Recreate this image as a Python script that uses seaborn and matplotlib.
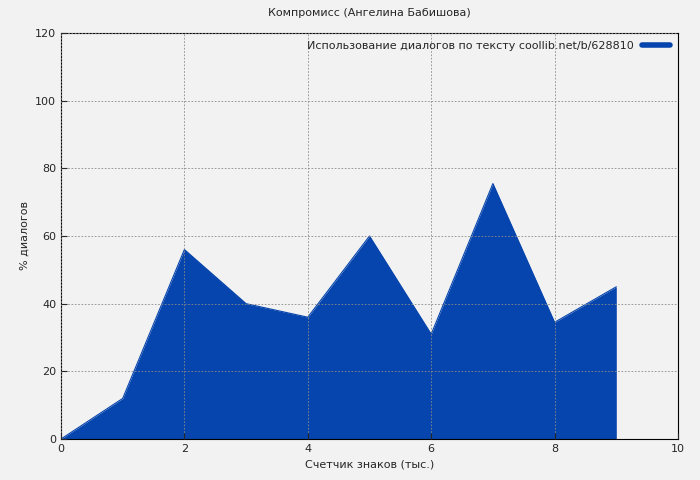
import matplotlib
matplotlib.use("Agg")
import matplotlib.pyplot as plt
import seaborn as sns
from matplotlib.lines import Line2D

sns.set_style("ticks")
plt.rcParams["font.family"] = ["DejaVu Sans"]

chars_k = [0, 1, 2, 3, 4, 5, 6, 7, 8, 9]
dialog_pct = [0, 12, 56, 40, 36, 60, 31, 75.5, 34.5, 45]

BG = "#f2f2f2"
BLUE = "#0645ad"

fig = plt.figure(figsize=(7, 4.8), dpi=100, facecolor=BG)
ax = fig.add_axes([61 / 700, 41 / 480, 617 / 700, 406 / 480])
ax.set_facecolor(BG)

sns.lineplot(x=chars_k, y=dialog_pct, ax=ax, color=BLUE, linewidth=0.8)
ax.fill_between(chars_k, dialog_pct, 0, color=BLUE, linewidth=0)

ax.set_xlim(0, 10)
ax.set_ylim(0, 120)
ax.set_xticks(range(0, 11, 2))
ax.set_yticks(range(0, 121, 20))
ax.grid(True, color="#888888", linestyle=(0, (2, 2)), linewidth=0.6)
ax.set_axisbelow(False)
for s in ax.spines.values():
    s.set_color("black")
    s.set_linewidth(0.8)
ax.tick_params(labelsize=8, direction="in", length=4)

ax.set_title("Компромисс (Ангелина Бабишова)", fontsize=8, pad=12)
ax.set_xlabel("Счетчик знаков (тыс.)", fontsize=8)
ax.set_ylabel("% диалогов", fontsize=8)

handle = Line2D([0], [0], color=BLUE, linewidth=4)
leg = ax.legend([handle], ["Использование диалогов по тексту coollib.net/b/628810"],
                loc="upper right", fontsize=8, frameon=False, markerfirst=False,
                handlelength=2.5, borderaxespad=0.3)

fig.savefig("out.png", dpi=100, facecolor=BG)
